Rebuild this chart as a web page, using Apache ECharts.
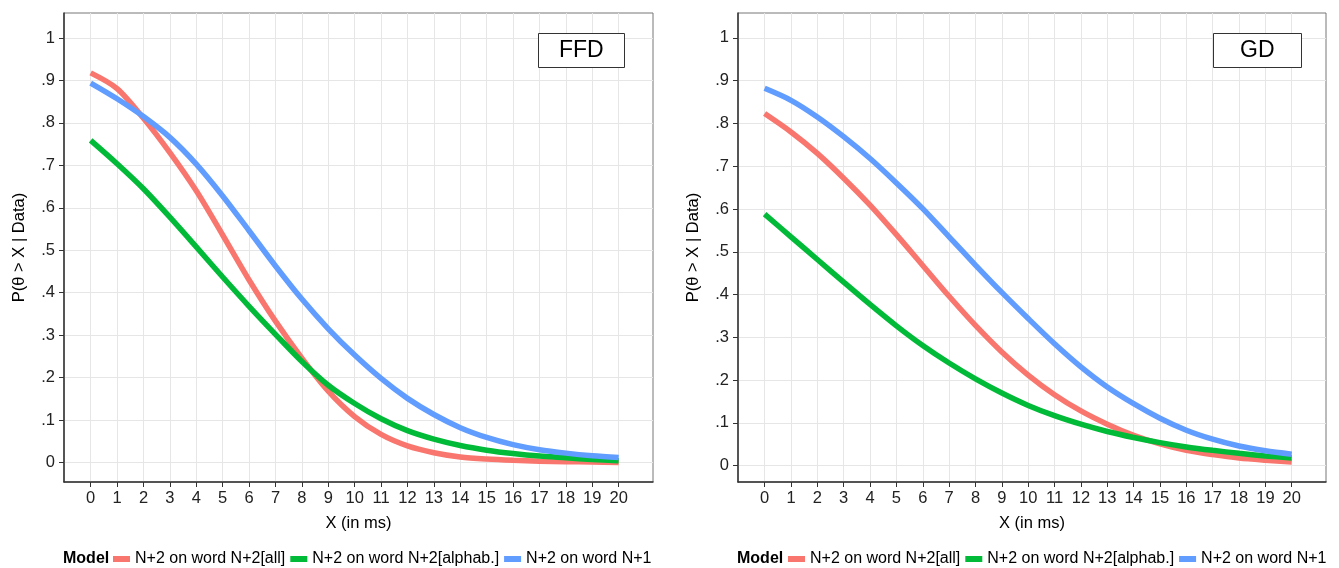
<!DOCTYPE html>
<html>
<head>
<meta charset="utf-8">
<title>P(θ > X | Data)</title>
<script src="https://cdn.jsdelivr.net/npm/echarts@6/dist/echarts.min.js"></script>
<style>
html, body { margin: 0; padding: 0; background: #fff; }
#main { width: 1339px; height: 568px; }
</style>
</head>
<body>
<div id="main"></div>
<script>
// x positions (ms) and axis ticks
var xValues = [0, 1, 2, 3, 4, 5, 6, 7, 8, 9, 10, 11, 12, 13, 14, 15, 16, 17, 18, 19, 20];
var xTicks = [0, 1, 2, 3, 4, 5, 6, 7, 8, 9, 10, 11, 12, 13, 14, 15, 16, 17, 18, 19, 20];
var yTicks = [0, 0.1, 0.2, 0.3, 0.4, 0.5, 0.6, 0.7, 0.8, 0.9, 1];
var yTickLabels = ['0', '.1', '.2', '.3', '.4', '.5', '.6', '.7', '.8', '.9', '1'];

var seriesNames = ['N+2 on word N+2[all]', 'N+2 on word N+2[alphab.]', 'N+2 on word N+1'];
var colors = ['#F8766D', '#00BA38', '#619CFF'];

// FFD panel
var ffdAll    = [0.918, 0.881, 0.811, 0.730, 0.640, 0.536, 0.430, 0.333, 0.246, 0.168, 0.108, 0.066, 0.039, 0.023, 0.013, 0.008, 0.005, 0.003, 0.002, 0.001, 0.000];
var ffdAlphab = [0.759, 0.704, 0.645, 0.578, 0.508, 0.437, 0.368, 0.302, 0.238, 0.182, 0.139, 0.103, 0.075, 0.055, 0.040, 0.029, 0.021, 0.015, 0.011, 0.007, 0.004];
var ffdN1     = [0.894, 0.857, 0.815, 0.766, 0.703, 0.628, 0.546, 0.463, 0.385, 0.315, 0.253, 0.198, 0.151, 0.113, 0.082, 0.059, 0.042, 0.030, 0.022, 0.016, 0.012];

// GD panel
var gdAll    = [0.823, 0.780, 0.730, 0.672, 0.609, 0.540, 0.468, 0.396, 0.328, 0.266, 0.212, 0.166, 0.128, 0.097, 0.071, 0.051, 0.036, 0.026, 0.018, 0.013, 0.009];
var gdAlphab = [0.588, 0.535, 0.482, 0.429, 0.377, 0.327, 0.281, 0.240, 0.203, 0.170, 0.141, 0.117, 0.097, 0.080, 0.066, 0.054, 0.044, 0.036, 0.029, 0.023, 0.018];
var gdN1     = [0.882, 0.854, 0.815, 0.769, 0.718, 0.661, 0.601, 0.535, 0.469, 0.405, 0.344, 0.285, 0.231, 0.184, 0.145, 0.111, 0.083, 0.062, 0.046, 0.035, 0.027];

var FONT = 'Liberation Sans, Arial, sans-serif';
var myChart = echarts.init(document.getElementById('main'));

function yLabel(v) {
    for (var i = 0; i < yTicks.length; i++) {
        if (Math.abs(yTicks[i] - v) < 1e-6) return yTickLabels[i];
    }
    return '';
}

function makeX(idx) {
    return {
        type: 'value', gridIndex: idx, min: -1.01, max: 21.3,
        name: 'X (in ms)', nameLocation: 'middle', nameGap: 33,
        nameTextStyle: {color: '#000', fontSize: 16.5, fontFamily: FONT},
        axisLine: {onZero: false, lineStyle: {color: '#333', width: 1.5}},
        axisTick: {show: true, length: 5, customValues: xTicks, lineStyle: {color: '#333'}},
        axisLabel: {customValues: xTicks, margin: 8, color: '#222', fontSize: 16.5, fontFamily: FONT},
        splitLine: {show: true, lineStyle: {color: '#e6e6e6', width: 1}}
    };
}

function makeY(idx, min, max) {
    return {
        type: 'value', gridIndex: idx, min: min, max: max,
        name: 'P(θ > X | Data)', nameLocation: 'middle', nameGap: 36,
        nameTextStyle: {color: '#000', fontSize: 16.5, fontFamily: FONT},
        axisLine: {show: true, onZero: false, lineStyle: {color: '#333', width: 1.5}},
        axisTick: {show: true, length: 5, customValues: yTicks, lineStyle: {color: '#333'}},
        axisLabel: {customValues: yTicks, margin: 9, color: '#222', fontSize: 16.5, fontFamily: FONT, formatter: yLabel},
        splitLine: {show: true, lineStyle: {color: '#e6e6e6', width: 1}}
    };
}

function makeSeries(k, data, idx) {
    return {
        type: 'line', name: seriesNames[k], xAxisIndex: idx, yAxisIndex: idx,
        data: xValues.map(function (x, i) { return [x, data[i]]; }),
        smooth: 0.3, symbol: 'none', showSymbol: false,
        lineStyle: {width: 5.5, color: colors[k]},
        itemStyle: {color: colors[k]},
        z: 3 + k
    };
}

function makeLegend(left) {
    return {
        left: left, top: 549, padding: 0, itemGap: 5,
        itemWidth: 17, itemHeight: 6, icon: 'rect',
        data: seriesNames,
        textStyle: {color: '#000', fontSize: 16, fontFamily: FONT, lineHeight: 20}
    };
}

function boxTitle(text, left, padH) {
    return {
        text: text, left: left, top: 33,
        padding: [6, padH], borderColor: '#333', borderWidth: 1, backgroundColor: '#fff',
        textStyle: {color: '#000', fontSize: 23, fontWeight: 'normal', fontFamily: FONT, lineHeight: 23}
    };
}

var option = {
    animation: false,
    backgroundColor: '#fff',
    title: [
        boxTitle('FFD', 538, 21),
        boxTitle('GD', 1213, 27),
        {text: 'Model', left: 63, top: 549, padding: 0,
         textStyle: {color: '#000', fontSize: 16, fontWeight: 'bold', fontFamily: FONT, lineHeight: 20}},
        {text: 'Model', left: 737, top: 549, padding: 0,
         textStyle: {color: '#000', fontSize: 16, fontWeight: 'bold', fontFamily: FONT, lineHeight: 20}}
    ],
    legend: [makeLegend(113), makeLegend(788)],
    grid: [
        {left: 64, top: 13, width: 589, height: 469, show: true, borderColor: '#777', borderWidth: 1, backgroundColor: '#fff', outerBoundsMode: 'none'},
        {left: 738, top: 13, width: 588, height: 469, show: true, borderColor: '#777', borderWidth: 1, backgroundColor: '#fff', outerBoundsMode: 'none'}
    ],
    xAxis: [makeX(0), makeX(1)],
    yAxis: [makeY(0, -0.046, 1.059), makeY(1, -0.038, 1.058)],
    series: [
        makeSeries(0, ffdAll, 0),
        makeSeries(1, ffdAlphab, 0),
        makeSeries(2, ffdN1, 0),
        makeSeries(0, gdAll, 1),
        makeSeries(1, gdAlphab, 1),
        makeSeries(2, gdN1, 1)
    ]
};

myChart.setOption(option);
</script>
</body>
</html>
